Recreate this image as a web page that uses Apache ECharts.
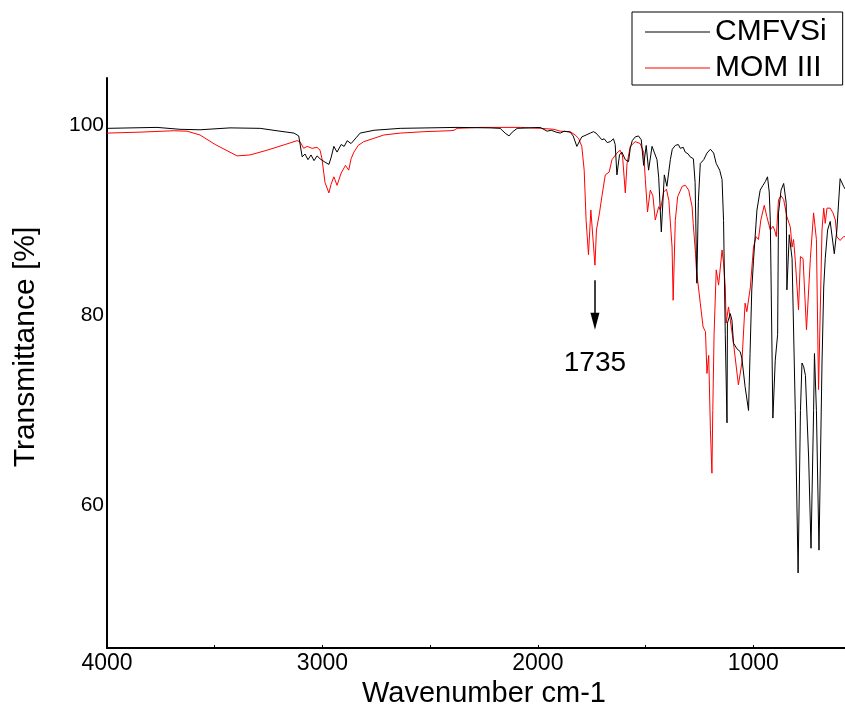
<!DOCTYPE html>
<html>
<head>
<meta charset="utf-8">
<title>FTIR spectra</title>
<script src="https://cdn.jsdelivr.net/npm/echarts@6/dist/echarts.min.js"></script>
<style>
  html, body { margin: 0; padding: 0; background: #fff; }
  #chart { width: 845px; height: 706px; }
</style>
</head>
<body>
<div id="chart"></div>
<script>
// Series names
const seriesNames = ['CMFVSi', 'MOM III'];

// CMFVSi spectrum: wavenumber (cm-1) and transmittance (%)
const wnCMFVSi = [4000, 3768, 3661, 3568, 3429, 3289, 3197, 3132, 3110, 3094, 3081, 3067, 3053, 3039, 3025, 3011, 2992, 2970, 2960, 2947, 2932, 2913, 2899, 2885, 2867, 2844, 2825, 2760, 2639, 2375, 2221, 2175, 2152, 2134, 2119, 2096, 1989, 1957, 1938, 1915, 1896, 1878,
  1850, 1836, 1819, 1803, 1796, 1776, 1757, 1742, 1730, 1718, 1703, 1692, 1678, 1664, 1649, 1641, 1633, 1621, 1610, 1594, 1579, 1571, 1562, 1548, 1533, 1520, 1509, 1497, 1486, 1470, 1460, 1447, 1439, 1427, 1413, 1401, 1385, 1376, 1362, 1348, 1339, 1325, 1316, 1302, 1293, 1278, 1270, 1262, 1255, 1246, 1230, 1215, 1199, 1184, 1172, 1156, 1145, 1138, 1130, 1122, 1120, 1107, 1099, 1092, 1076, 1061, 1053, 1038, 1022, 1015, 1007, 999, 983, 968, 955, 944, 934, 926, 921, 909, 898, 887, 883, 871, 859, 847, 844, 833, 820, 805, 792, 781, 774, 766, 758, 743, 732, 720, 716, 707, 695, 681, 673, 666, 655, 643, 624, 612, 597, 589, 581, 573];
const tCMFVSi = [99.7, 99.8, 99.6, 99.55, 99.75, 99.7, 99.4, 99.2, 98.9, 96.7, 97.0, 96.4, 96.9, 96.3, 96.8, 96.5, 96.2, 95.9, 96.6, 97.8, 97.2, 98.0, 97.8, 98.4, 98.1, 98.7, 99.2, 99.5, 99.7, 99.8, 99.75, 99.7, 99.2, 98.9, 99.3, 99.7, 99.8, 99.4, 99.5, 99.3, 99.2, 99.4,
  99.3, 98.9, 97.8, 98.5, 98.8, 99.0, 99.2, 99.35, 99.2, 98.9, 98.5, 98.6, 98.2, 98.3, 98.6, 98.0, 94.8, 96.9, 97.2, 96.4, 96.2, 97.6, 98.4, 98.8, 98.9, 98.5, 95.8, 97.9, 95.3, 97.8, 97.2, 96.4, 94.5, 88.8, 94.8, 93.6, 96.4, 97.5, 97.9, 98.0, 97.6, 97.7, 97.2, 97.0, 96.7, 96.5, 94.0, 83.4, 92.0, 96.0, 96.4, 97.1, 97.5, 97.1, 96.0, 95.3, 94.3, 90.0, 78.0, 68.7, 79.2, 80.2, 79.5, 77.1, 76.5, 76.2, 75.5, 72.5, 70.0, 76.0, 82.7, 85.8, 91.1, 93.2, 93.7, 94.1, 94.6, 93.0, 90.0, 69.2, 75.3, 78.0, 90.8, 93.2, 93.9, 91.8, 82.7, 88.5, 86.0, 70.0, 52.9, 70.0, 75.0, 74.6, 73.7, 65.0, 55.5, 70.0, 76.0, 70.0, 55.3, 75.0, 83.0, 86.0, 89.0, 89.9, 86.5, 89.0, 94.4, 94.2, 93.6, 93.3];

// MOM III spectrum: wavenumber (cm-1) and transmittance (%)
const wnMOM = [4000, 3847, 3690, 3628, 3568, 3498, 3396, 3336, 3257, 3173, 3118, 3104, 3087, 3071, 3048, 3025, 3011, 3002, 2988, 2970, 2960, 2947, 2932, 2913, 2893, 2878, 2867, 2854, 2834, 2808, 2761, 2715, 2639, 2529, 2407, 2389, 2375, 2268, 2082, 1989, 1925, 1896,
  1850, 1827, 1811, 1796, 1785, 1776, 1765, 1754, 1735, 1728, 1714, 1703, 1687, 1669, 1656, 1633, 1618, 1607, 1594, 1586, 1571, 1548, 1525, 1509, 1501, 1491, 1478, 1466, 1455, 1439, 1431, 1416, 1403, 1392, 1377, 1372, 1362, 1351, 1330, 1315, 1300, 1284, 1279, 1268, 1264, 1258, 1246, 1233, 1222, 1215, 1207, 1199, 1192, 1188, 1182, 1172, 1161, 1145, 1138, 1130, 1126, 1115, 1107, 1092, 1069, 1053, 1038, 1030, 1014, 999, 987, 976, 965, 949, 937, 921, 909, 901, 893, 883, 871, 859, 844, 828, 820, 813, 805, 790, 781, 769, 753, 735, 720, 707, 697, 681, 673, 666, 658, 643, 630, 619, 612, 597, 581, 573];
const tMOM = [99.2, 99.3, 99.45, 99.4, 99.0, 98.0, 96.8, 96.9, 97.4, 98.0, 98.4, 98.3, 97.6, 97.8, 97.6, 97.7, 97.4, 96.5, 94.0, 92.9, 93.8, 94.6, 93.7, 95.0, 95.8, 95.3, 96.5, 97.2, 97.9, 98.3, 98.65, 99.0, 99.2, 99.35, 99.45, 99.5, 99.7, 99.8, 99.8, 99.7, 99.6, 99.4,
  99.35, 99.0, 98.65, 97.8, 95.3, 90.0, 86.4, 91.1, 85.3, 89.0, 90.8, 92.5, 94.8, 95.1, 96.4, 97.1, 97.4, 96.8, 92.9, 96.0, 97.8, 98.3, 98.1, 97.2, 94.3, 90.9, 93.2, 92.6, 90.05, 91.45, 91.1, 93.0, 93.3, 92.1, 87.2, 81.6, 90.0, 92.5, 93.6, 93.7, 93.2, 91.45, 89.7, 86.5, 84.8, 84.9, 81.3, 78.8, 78.3, 73.9, 75.8, 68.0, 63.4, 70.0, 78.0, 84.8, 83.2, 86.9, 85.5, 83.0, 79.2, 80.9, 80.7, 77.1, 72.7, 75.0, 81.3, 80.4, 82.9, 87.2, 88.3, 88.0, 90.05, 91.6, 90.4, 89.0, 89.4, 89.0, 88.3, 92.2, 92.6, 92.2, 90.4, 89.3, 87.2, 88.0, 85.8, 80.6, 86.2, 86.0, 78.5, 86.0, 90.8, 88.0, 72.2, 89.0, 91.3, 89.7, 91.3, 91.3, 90.8, 90.05, 88.3, 87.9, 88.3, 88.3];

// Axis ranges and labelled ticks
const xRange = [500, 4000];
const yRange = [45, 105];
const xLabelTicks = [1000, 2000, 3000, 4000];
const yLabelTicks = [60, 80, 100];

// Carbonyl band annotation
const bandPosition = 1735;
const bandArrow = [83.7, 79.4];

const zip = (xs, ys) => xs.map((x, i) => [x, ys[i]]);

const chart = echarts.init(document.getElementById('chart'), null, { renderer: 'canvas', width: 845, height: 706 });
const font = '"Liberation Sans", Arial, sans-serif';

chart.setOption({
  animation: false,
  backgroundColor: '#ffffff',
  textStyle: { fontFamily: font, color: '#000' },
  // The plot runs past the right edge of the canvas (axis ends at 500 cm-1)
  grid: { left: 107, top: 78, width: 754, height: 570, containLabel: false, outerBoundsMode: 'none' },
  legend: {
    orient: 'vertical',
    left: 632,
    top: 12,
    padding: [5, 16, 2, 13],
    itemGap: 6,
    itemWidth: 65,
    itemHeight: 1.2,
    icon: 'rect',
    borderColor: '#000',
    borderWidth: 1,
    borderRadius: 0,
    textStyle: { fontFamily: font, fontSize: 30, color: '#000' },
    data: seriesNames
  },
  xAxis: {
    type: 'value',
    inverse: true,
    min: xRange[0],
    max: xRange[1],
    interval: 500,
    name: 'Wavenumber cm-1',
    nameLocation: 'middle',
    nameGap: 28,
    nameTextStyle: { fontFamily: font, fontSize: 29, color: '#000' },
    axisLine: { show: true, onZero: false, lineStyle: { color: '#000', width: 2 } },
    axisTick: { show: true, inside: true, length: 3, lineStyle: { color: '#000', width: 1 } },
    axisLabel: {
      margin: 4,
      fontFamily: font,
      fontSize: 23,
      color: '#000',
      formatter: v => (xLabelTicks.includes(v) ? String(v) : '')
    },
    splitLine: { show: false }
  },
  yAxis: {
    type: 'value',
    min: yRange[0],
    max: yRange[1],
    interval: 5,
    name: 'Transmittance [%]',
    nameLocation: 'middle',
    nameGap: 66,
    nameRotate: 90,
    nameTextStyle: { fontFamily: font, fontSize: 30, color: '#000', padding: [0, 0, 0, 32] },
    axisLine: { show: true, onZero: false, lineStyle: { color: '#000', width: 2 } },
    axisTick: { show: false },
    axisLabel: {
      margin: 3,
      fontFamily: font,
      fontSize: 21,
      color: '#000',
      formatter: v => (yLabelTicks.includes(v) ? String(v) : '')
    },
    splitLine: { show: false }
  },
  series: [
    {
      name: seriesNames[0],
      type: 'line',
      data: zip(wnCMFVSi, tCMFVSi),
      symbol: 'none',
      smooth: false,
      lineStyle: { color: '#000000', width: 1 },
      itemStyle: { color: '#000000' },
      z: 3,
      markLine: {
        silent: true,
        symbol: ['none', 'triangle'],
        symbolSize: [9, 17],
        lineStyle: { color: '#000', width: 1.5, type: 'solid' },
        label: {
          show: true,
          position: 'end',
          distance: 28,
          formatter: String(bandPosition),
          fontFamily: font,
          fontSize: 28,
          color: '#000'
        },
        data: [[
          { coord: [bandPosition, bandArrow[0]] },
          { coord: [bandPosition, bandArrow[1]] }
        ]]
      }
    },
    {
      name: seriesNames[1],
      type: 'line',
      data: zip(wnMOM, tMOM),
      symbol: 'none',
      smooth: false,
      lineStyle: { color: '#ff0000', width: 1 },
      itemStyle: { color: '#ff0000' },
      z: 2
    }
  ]
});
</script>
</body>
</html>
